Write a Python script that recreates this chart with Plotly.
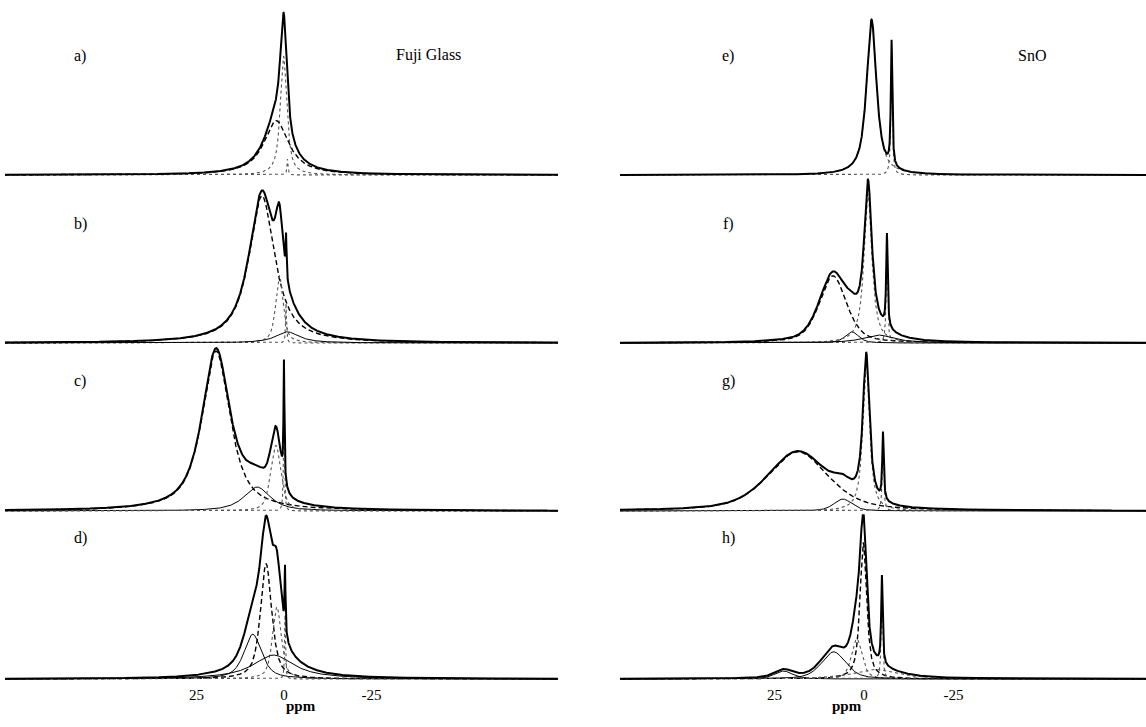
import numpy as np
import plotly.graph_objects as go

# ---- fitted line components for each spectrum (ppm, FWHM ppm, height, Lorentzian fraction)
a_pos = [0.1, 2.2, -1.0]
a_fwhm = [2.2, 8.5, 0.35]
a_amp = [0.74, 0.34, 0.10]
a_lor = [0.85, 1.0, 1.0]

b_pos = [6.3, 1.3, -0.6, -1.0]
b_fwhm = [8.8, 2.5, 0.3, 8.0]
b_amp = [0.92, 0.42, 0.25, 0.07]
b_lor = [0.9, 0.7, 1.0, 1.0]

c_pos = [19.4, 7.7, 2.3, 0.0]
c_fwhm = [9.5, 9.0, 3.5, 0.3]
c_amp = [1.0, 0.15, 0.41, 0.73]
c_lor = [0.8, 0.8, 0.5, 1.0]

d_pos = [5.1, 2.0, 8.9, 3.0, -0.3]
d_fwhm = [3.8, 3.0, 6.0, 14.0, 0.3]
d_amp = [0.72, 0.45, 0.28, 0.15, 0.40]
d_lor = [0.7, 0.6, 0.7, 1.0, 1.0]

e_pos = [-2.1, -7.7]
e_fwhm = [3.3, 0.5]
e_amp = [0.97, 0.78]
e_lor = [0.85, 0.9]

f_pos = [8.7, 3.4, -1.1, -6.4, -4.0]
f_fwhm = [9.0, 4.5, 2.6, 0.5, 10.0]
f_amp = [0.42, 0.07, 0.93, 0.58, 0.05]
f_lor = [0.5, 0.5, 0.9, 0.9, 1.0]

g_pos = [18.5, 5.9, -0.6, -5.3]
g_fwhm = [20.0, 6.0, 2.2, 0.5]
g_amp = [0.37, 0.075, 0.93, 0.42]
g_lor = [0.5, 0.5, 0.9, 0.9]

h_pos = [0.2, 2.0, 8.5, 22.5, -5.0, -3.0]
h_fwhm = [2.2, 3.5, 8.0, 6.0, 0.5, 14.0]
h_amp = [0.85, 0.25, 0.17, 0.05, 0.55, 0.06]
h_lor = [0.8, 0.5, 0.5, 0.5, 0.9, 1.0]

panel_labels = ["a)", "b)", "c)", "d)", "e)", "f)", "g)", "h)"]
column_titles = ["Fuji Glass", "SnO"]
tick_values = [25, 0, -25]
tick_text = ["25", "0", "-25"]

# line style of each component, in the same order as the arrays above
STYLES = {
    "a": ["dot", "dash", "dot"],
    "b": ["dash", "dot", "dot", "thin"],
    "c": ["dash", "thin", "dot", "dot"],
    "d": ["dash", "dot", "thin", "thin", "dot"],
    "e": ["dot", "dot"],
    "f": ["dash", "thin", "dot", "dot", "thin"],
    "g": ["dash", "thin", "dot", "dot"],
    "h": ["dash", "dot", "thin", "thin", "dot", "dot"],
}
LINE = {
    "dot": dict(color="#555555", width=1.1, dash="dot"),
    "dash": dict(color="black", width=1.4, dash="5px,3px"),
    "thin": dict(color="black", width=1.0),
}

PANELS = {
    "a": (a_pos, a_fwhm, a_amp, a_lor),
    "b": (b_pos, b_fwhm, b_amp, b_lor),
    "c": (c_pos, c_fwhm, c_amp, c_lor),
    "d": (d_pos, d_fwhm, d_amp, d_lor),
    "e": (e_pos, e_fwhm, e_amp, e_lor),
    "f": (f_pos, f_fwhm, f_amp, f_lor),
    "g": (g_pos, g_fwhm, g_amp, g_lor),
    "h": (h_pos, h_fwhm, h_amp, h_lor),
}


def pseudo_voigt(x, x0, fwhm, amp, eta):
    hw = fwhm / 2.0
    lor = 1.0 / (1.0 + ((x - x0) / hw) ** 2)
    gau = np.exp(-np.log(2.0) * ((x - x0) / hw) ** 2)
    return amp * (eta * lor + (1.0 - eta) * gau)


W, H = 1146, 727
# pixel geometry of the two columns and four rows
COL_PX = [(5, 558), (620, 1146)]
COL_RANGE = [(79.7, -78.3), (68.2, -78.8)]
BASE_PX = [175, 343, 511, 679]
UNIT_PX = 160.0
Y_LO, Y_HI = -0.03, 1.03

fig = go.Figure()
layout = {}
keys = list("abcdefgh")
for i, key in enumerate(keys):
    col, row = divmod(i, 4)
    n = i + 1
    xa = "x" if n == 1 else f"x{n}"
    ya = "y" if n == 1 else f"y{n}"
    lo, hi = COL_RANGE[col]
    ppm = np.linspace(lo, hi, 8000)
    pos, fwhm, amp, lor = PANELS[key]
    comps = [pseudo_voigt(ppm, p, w, a, e) for p, w, a, e in zip(pos, fwhm, amp, lor)]
    for comp, style in zip(comps, STYLES[key]):
        fig.add_trace(go.Scatter(x=ppm, y=comp, mode="lines", line=LINE[style],
                                 xaxis=xa, yaxis=ya, showlegend=False, hoverinfo="skip"))
    total = np.sum(comps, axis=0)
    fig.add_trace(go.Scatter(x=ppm, y=total, mode="lines",
                             line=dict(color="black", width=2.0),
                             xaxis=xa, yaxis=ya, showlegend=False, hoverinfo="skip"))

    base = BASE_PX[row]
    bot_px = base - Y_LO * UNIT_PX
    top_px = base - Y_HI * UNIT_PX
    x0, x1 = COL_PX[col]
    bottom = row == 3
    layout["xaxis" if n == 1 else f"xaxis{n}"] = dict(
        domain=[x0 / W, x1 / W], range=[lo, hi], anchor=ya,
        showgrid=False, zeroline=False, showline=False,
        showticklabels=bottom, ticks="", tickvals=tick_values, ticktext=tick_text,
        tickfont=dict(family="Liberation Serif", size=15, color="black"),
    )
    layout["yaxis" if n == 1 else f"yaxis{n}"] = dict(
        domain=[1 - bot_px / H, 1 - top_px / H], range=[Y_LO, Y_HI],
        anchor=xa, visible=False,
    )

annotations = []
label_px = [(72, 45), (728, 45)]
for i, lab in enumerate(panel_labels):
    col, row = divmod(i, 4)
    lx, ly = label_px[col]
    annotations.append(dict(text=lab, x=lx / W, y=1 - (ly + row * 168) / H,
                            xref="paper", yref="paper", showarrow=False,
                            font=dict(family="Liberation Serif", size=16, color="black")))
for (tx, ty), t in zip([(428, 44), (1048, 45)], column_titles):
    annotations.append(dict(text=t, x=tx / W, y=1 - ty / H, xref="paper", yref="paper",
                            showarrow=False,
                            font=dict(family="Liberation Serif", size=16, color="black")))
for cx in (284, 864):
    annotations.append(dict(text="<b>ppm</b>", x=cx / W, y=1 - 716 / H, xref="paper", yref="paper",
                            showarrow=False,
                            font=dict(family="Liberation Serif", size=15, color="black")))

fig.update_layout(width=W, height=H, margin=dict(l=0, r=0, t=0, b=0),
                  paper_bgcolor="white", plot_bgcolor="white",
                  annotations=annotations, **layout)
fig.write_html("out.html")
